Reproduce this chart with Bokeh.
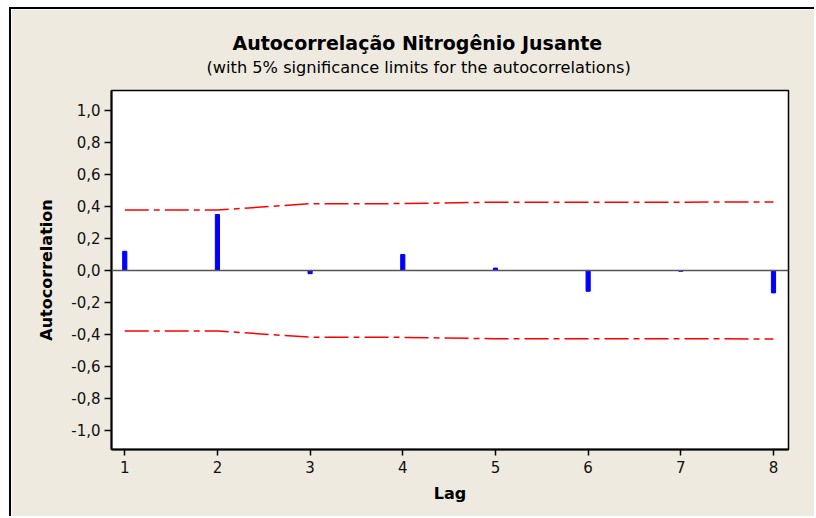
from bokeh.plotting import figure
from bokeh.models import Title, Span, FixedTicker, Range1d
from bokeh.embed import file_html
from bokeh.resources import INLINE

# ---- data ----
lags = [1, 2, 3, 4, 5, 6, 7, 8]
acf = [0.12, 0.35, -0.02, 0.10, 0.015, -0.13, -0.005, -0.14]
upper_limit = [0.378, 0.378, 0.417, 0.418, 0.427, 0.427, 0.427, 0.428]
lower_limit = [-0.378, -0.378, -0.417, -0.418, -0.427, -0.427, -0.427, -0.428]
y_ticks = [-1.0, -0.8, -0.6, -0.4, -0.2, 0.0, 0.2, 0.4, 0.6, 0.8, 1.0]
y_tick_labels = ["-1,0", "-0,8", "-0,6", "-0,4", "-0,2", "0,0", "0,2", "0,4", "0,6", "0,8", "1,0"]

title_text = "Autocorrelação Nitrogênio Jusante"
subtitle_text = "(with 5% significance limits for the autocorrelations)"

FONT = "DejaVu Sans"
BG = "#eeeae0"

p = figure(
    width=805, height=509,
    output_backend="svg", toolbar_location=None,
    x_range=Range1d(0.857, 8.162), y_range=Range1d(-1.119, 1.125),
    min_border_left=100, min_border_right=28, min_border_top=81, min_border_bottom=69,
    background_fill_color="white", border_fill_color=BG,
    title=title_text,
)
p.styles = {"margin-left": "9px", "margin-top": "7px",
            "border-left": "2px solid black", "border-top": "2px solid black"}

p.title.align = "left"
p.title.offset = 121
p.title.text_font = FONT
p.title.text_font_size = "19px"
p.title.text_font_style = "bold"
p.title.text_color = "black"
p.title.standoff = 2

# empty spacer between the frame and the subtitle (first added = closest to frame)
spacer = Title(text=" ", text_font_size="1px", standoff=10)
p.add_layout(spacer, "above")

sub_title = Title(text=subtitle_text, align="left", offset=95, text_font=FONT,
                  text_font_size="16.2px", text_font_style="normal", text_color="black",
                  standoff=2)
p.add_layout(sub_title, "above")

p.xgrid.visible = False
p.ygrid.visible = False
p.outline_line_color = "black"
p.outline_line_width = 1.5

# bars
p.vbar(x=lags, top=acf, bottom=0, width=0.045, color="#0000ff")

# significance limits
p.line(lags, upper_limit, line_color="#ff0000", line_width=1.5, line_dash="24 5 6 5")
p.line(lags, lower_limit, line_color="#ff0000", line_width=1.5, line_dash="24 5 6 5")

p.add_layout(Span(location=0, dimension="width", line_color="#555555", line_width=1.5))

# axes
for ax in (p.xaxis[0], p.yaxis[0]):
    ax.axis_line_color = "black"
    ax.axis_line_width = 2
    ax.major_tick_line_color = "black"
    ax.major_tick_line_width = 1.5
    ax.major_tick_in = 0
    ax.major_tick_out = 6
    ax.minor_tick_line_color = None
    ax.major_label_text_font = FONT
    ax.major_label_text_font_size = "15px"
    ax.major_label_text_color = "#111111"
    ax.axis_label_text_font = FONT
    ax.axis_label_text_font_size = "16px"
    ax.axis_label_text_font_style = "bold"
    ax.axis_label_text_color = "black"

p.xaxis.ticker = FixedTicker(ticks=lags)
p.xaxis.axis_label = "Lag"
p.xaxis.major_label_standoff = 5
p.xaxis.axis_label_standoff = 8

p.yaxis.ticker = FixedTicker(ticks=y_ticks)
p.yaxis.major_label_overrides = {t: l for t, l in zip(y_ticks, y_tick_labels)}
p.yaxis.axis_label = "Autocorrelation"
p.yaxis.major_tick_out = 7
p.yaxis.major_label_standoff = 4
p.yaxis.axis_label_standoff = 12

open("out.html", "w").write(file_html(p, INLINE))
